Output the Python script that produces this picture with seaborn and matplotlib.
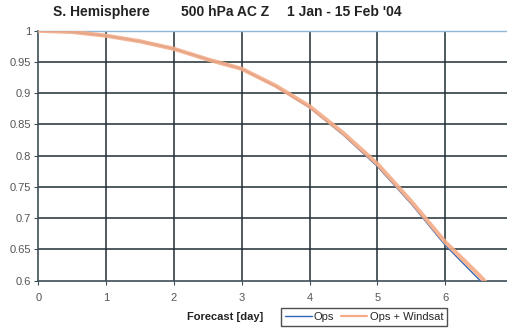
import matplotlib
matplotlib.use("Agg")
import matplotlib.pyplot as plt
import seaborn as sns
import pandas as pd

days = [0, 0.5, 1, 1.5, 2, 2.5, 3, 3.5, 4, 4.5, 5, 5.5, 6, 6.5, 7]
ops = [1.0, 0.998, 0.992, 0.983, 0.971, 0.954, 0.939, 0.911, 0.877, 0.833, 0.783, 0.723, 0.657, 0.602, 0.54]
ops_windsat = [1.0, 0.998, 0.992, 0.983, 0.971, 0.954, 0.939, 0.912, 0.879, 0.836, 0.787, 0.727, 0.662, 0.609, 0.55]
series_names = ["Ops", "Ops + Windsat"]
x_ticks = [0, 1, 2, 3, 4, 5, 6]
y_ticks = [0.6, 0.65, 0.7, 0.75, 0.8, 0.85, 0.9, 0.95, 1.0]
y_labels = ["0.6", "0.65", "0.7", "0.75", "0.8", "0.85", "0.9", "0.95", "1"]

sns.set_theme(style="white")
plt.rcParams["font.family"] = ["Liberation Sans", "DejaVu Sans"]

df = pd.DataFrame({
    "day": days * 2,
    "ac": ops + ops_windsat,
    "series": [series_names[0]] * len(days) + [series_names[1]] * len(days),
})

fig = plt.figure(figsize=(5.07, 3.33), dpi=100)
ax = fig.add_axes([38.3 / 507, 52.3 / 333, (507 - 38.3) / 507, 250 / 333])

palette = {"Ops": "#2f67b8", "Ops + Windsat": "#f5ab85"}
sns.lineplot(data=df[df.series == "Ops"], x="day", y="ac", color=palette["Ops"],
             linewidth=1.0, ax=ax, label="Ops", zorder=3)
sns.lineplot(data=df[df.series == "Ops + Windsat"], x="day", y="ac", color=palette["Ops + Windsat"],
             linewidth=3.0, ax=ax, label="Ops + Windsat", zorder=4, alpha=0.9)

ax.set_xlim(0, (507 - 38.3) / 67.8)
ax.set_ylim(0.6, 1.0)
ax.set_xticks(x_ticks)
ax.set_xticklabels([str(t) for t in x_ticks])
ax.set_yticks(y_ticks)
ax.set_yticklabels(y_labels)

gridc = "#1f2d33"
for t in x_ticks[1:]:
    ax.axvline(t, color=gridc, linewidth=1.1, zorder=1)
for t in y_ticks[1:-1]:
    ax.axhline(t, color=gridc, linewidth=1.1, zorder=1)

for s in ["left", "bottom"]:
    ax.spines[s].set_color("#3d4f58")
    ax.spines[s].set_linewidth(1.2)
ax.spines["top"].set_color("#8fb8d8")
ax.spines["top"].set_linewidth(1.0)
ax.spines["right"].set_visible(False)

ax.tick_params(axis="both", direction="out", length=3, width=0.8, color="#3d4f58",
               labelsize=8, labelcolor="#555555", pad=2, left=True, bottom=True)
ax.tick_params(axis="x", pad=6)
ax.set_xlabel("")
ax.set_ylabel("")

handles, labels = ax.get_legend_handles_labels()
order = [labels.index("Ops"), labels.index("Ops + Windsat")]
leg = fig.legend([handles[i] for i in order], [labels[i] for i in order],
                 loc="center", bbox_to_anchor=(364 / 507, 1 - 317 / 333), ncol=2,
                 frameon=True, fancybox=False, edgecolor="#222222", fontsize=8,
                 handlelength=2.4, handletextpad=0.2, columnspacing=0.6,
                 borderpad=0.35, borderaxespad=0)
leg.get_frame().set_linewidth(1.0)
for line in leg.get_lines():
    line.set_linewidth(1.6 if line.get_color() == palette["Ops + Windsat"] else 1.0)
    line.set_alpha(1.0)
if ax.get_legend():
    ax.get_legend().remove()

fig.text(225 / 507, 1 - 317 / 333, "Forecast [day]", ha="center", va="center",
         fontsize=8, fontweight="bold", color="#222222")

fig.text(53 / 507, 1 - 12 / 333, "S. Hemisphere", ha="left", va="center",
         fontsize=10, fontweight="bold", color="#222222")
fig.text(181 / 507, 1 - 12 / 333, "500 hPa AC Z", ha="left", va="center",
         fontsize=10, fontweight="bold", color="#222222")
fig.text(287 / 507, 1 - 12 / 333, "1 Jan - 15 Feb '04", ha="left", va="center",
         fontsize=10, fontweight="bold", color="#222222")

fig.savefig("out.png", dpi=100)
